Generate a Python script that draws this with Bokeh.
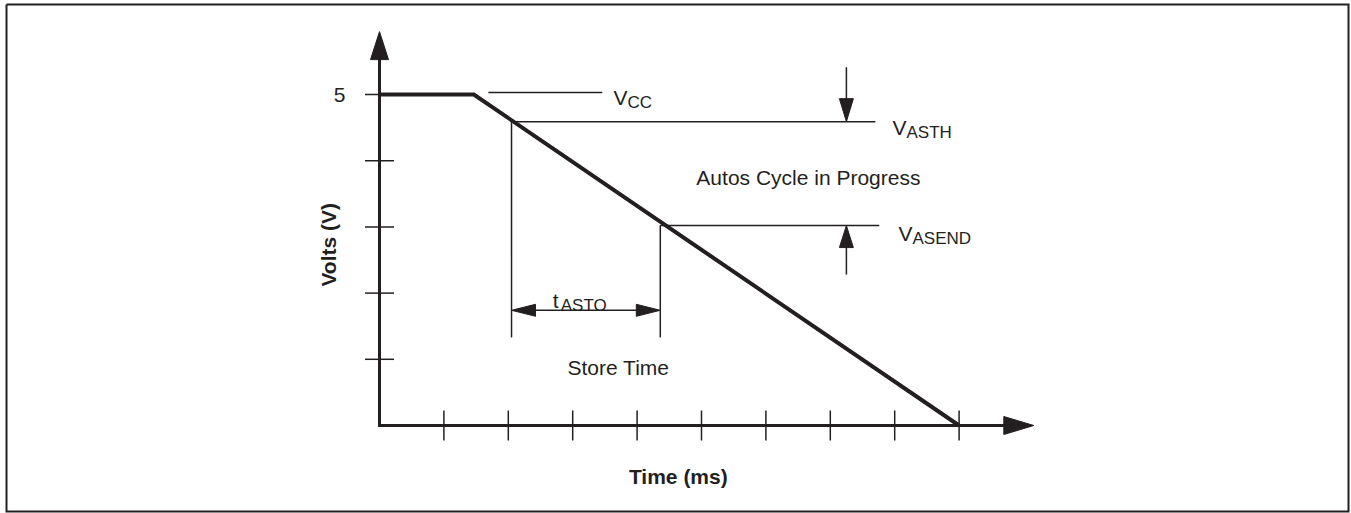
import math
from bokeh.plotting import figure
from bokeh.models import Range1d
from bokeh.core.properties import value
from bokeh.embed import file_html
from bokeh.resources import INLINE

# ---------------- data (chart units: time ticks / volts) ----------------
time_ticks = [1, 2, 3, 4, 5, 6, 7, 8, 9]
volt_ticks = [1, 2, 3, 4, 5]
volt_tick_labels = ["", "", "", "", "5"]

curve_time = [0.0, 1.465, 9.0]
curve_volts = [5.0, 5.0, 0.0]

vcc_level = 5.03
vcc_span = [1.69, 3.46]
v_asth = 4.59
v_asend = 3.02
t_asto_start = 2.05
t_asto_end = 4.36
store_bottom = 1.33
t_asto_level = 1.74
thresh_arrow_time = 7.25
v_asth_end = 7.70
v_asend_end = 7.76
down_arrow_top = 5.41
up_arrow_bottom = 2.28
y_axis_tip = 5.95
x_axis_tip = 10.16

# ---------------- layout ----------------
FIG_W, FIG_H = 1351, 513
X0, UX = 379, 64.4    # px of time=0 inside figure, px per time unit
Y0, VY = 425, 66.2    # px of volts=0 from top, px per volt

def du(px):
    return px / UX

def dv(px):
    return px / VY

def pu(px):   # figure px -> time units
    return (px - X0) / UX

def pv(py):   # figure px -> volt units
    return (Y0 - py) / VY

INK = "#231f20"
FONT = value("Liberation Sans")

p = figure(width=FIG_W, height=FIG_H,
           x_range=Range1d(pu(0), pu(FIG_W)),
           y_range=Range1d(pv(FIG_H), pv(0)),
           x_axis_type=None, y_axis_type=None,
           output_backend="svg", toolbar_location=None,
           min_border=0, background_fill_color="white",
           border_fill_color="white")
p.grid.visible = False
p.outline_line_color = None

# frame border around the whole drawing
p.line([pu(6), pu(1348), pu(1348), pu(6), pu(6)],
       [pv(4), pv(4), pv(511), pv(511), pv(4)],
       line_color=INK, line_width=2, line_join="miter")


def head(tip_u, tip_v, direction, length_px, width_px):
    if direction == "up":
        return ([tip_u, tip_u - du(width_px / 2), tip_u + du(width_px / 2)],
                [tip_v, tip_v - dv(length_px), tip_v - dv(length_px)])
    if direction == "down":
        return ([tip_u, tip_u - du(width_px / 2), tip_u + du(width_px / 2)],
                [tip_v, tip_v + dv(length_px), tip_v + dv(length_px)])
    if direction == "right":
        return ([tip_u, tip_u - du(length_px), tip_u - du(length_px)],
                [tip_v, tip_v + dv(width_px / 2), tip_v - dv(width_px / 2)])
    return ([tip_u, tip_u + du(length_px), tip_u + du(length_px)],
            [tip_v, tip_v + dv(width_px / 2), tip_v - dv(width_px / 2)])


heads_x, heads_y = [], []

# ---------------- axes ----------------
p.line([0, 0, x_axis_tip - du(28)], [y_axis_tip - dv(26), 0, 0],
       line_color=INK, line_width=3, line_join="miter")
hx, hy = head(0, y_axis_tip, "up", 28, 18); heads_x.append(hx); heads_y.append(hy)
hx, hy = head(x_axis_tip, 0, "right", 30, 18); heads_x.append(hx); heads_y.append(hy)

# ticks
p.segment(x0=time_ticks, y0=[-dv(15)] * len(time_ticks),
          x1=time_ticks, y1=[dv(15)] * len(time_ticks),
          line_color=INK, line_width=1.5)
p.segment(x0=[-du(14.5)] * len(volt_ticks), y0=volt_ticks,
          x1=[du(14.5)] * len(volt_ticks), y1=volt_ticks,
          line_color=INK, line_width=1.5)
p.text(x=[-du(34)] * len(volt_ticks), y=volt_ticks, text=volt_tick_labels,
       text_align="right", text_baseline="middle", text_font=FONT,
       text_font_size="21px", text_color=INK)

# ---------------- thin reference lines ----------------
p.segment(x0=[vcc_span[0], t_asto_start, t_asto_end, t_asto_start, t_asto_end],
          y0=[vcc_level, v_asth, v_asend, v_asth, v_asend],
          x1=[vcc_span[1], v_asth_end, v_asend_end, t_asto_start, t_asto_end],
          y1=[vcc_level, v_asth, v_asend, store_bottom, store_bottom],
          line_color=INK, line_width=1.5)

# tASTO double arrow
p.segment(x0=[t_asto_start + du(10)], y0=[t_asto_level],
          x1=[t_asto_end - du(10)], y1=[t_asto_level], line_color=INK, line_width=1.5)
hx, hy = head(t_asto_start, t_asto_level, "left", 24, 12); heads_x.append(hx); heads_y.append(hy)
hx, hy = head(t_asto_end, t_asto_level, "right", 24, 12); heads_x.append(hx); heads_y.append(hy)

# threshold arrows
p.segment(x0=[thresh_arrow_time, thresh_arrow_time],
          y0=[down_arrow_top, up_arrow_bottom],
          x1=[thresh_arrow_time, thresh_arrow_time],
          y1=[v_asth + dv(10), v_asend - dv(10)],
          line_color=INK, line_width=1.5)
hx, hy = head(thresh_arrow_time, v_asth, "down", 23, 14); heads_x.append(hx); heads_y.append(hy)
hx, hy = head(thresh_arrow_time, v_asend, "up", 22, 14); heads_x.append(hx); heads_y.append(hy)

p.patches(heads_x, heads_y, fill_color=INK, line_color=INK, line_width=1)

# ---------------- main curve ----------------
p.line(curve_time, curve_volts, line_color=INK, line_width=4, line_join="miter")

# ---------------- labels ----------------
def txt(u, v, s, size="21px", align="left", baseline="alphabetic", bold=False, angle=0.0):
    p.text(x=[u], y=[v], text=[s], text_align=align, text_baseline=baseline,
           text_font=FONT, text_font_size=size, text_color=INK,
           text_font_style="bold" if bold else "normal", angle=angle)

def sym(u, v, main, sub, main_w):
    txt(u, v, main)
    txt(u + du(main_w), v - dv(5), sub, size="17px")

sym(3.634, 4.955, "V", "CC", 14)
sym(7.966, 4.50, "V", "ASTH", 14)
sym(8.059, 2.90, "V", "ASEND", 14)
sym(2.69, 1.888, "t", "ASTO", 8)

txt(3.71, 0.876, "Store Time", align="center")
txt(6.66, 3.746, "Autos Cycle in Progress", align="center")
txt(4.64, -0.77, "Time (ms)", align="center", baseline="middle", bold=True)
txt(-0.79, 2.73, "Volts (V)", align="center", baseline="middle", bold=True, angle=math.pi / 2)

open("out.html", "w").write(file_html(p, INLINE))
